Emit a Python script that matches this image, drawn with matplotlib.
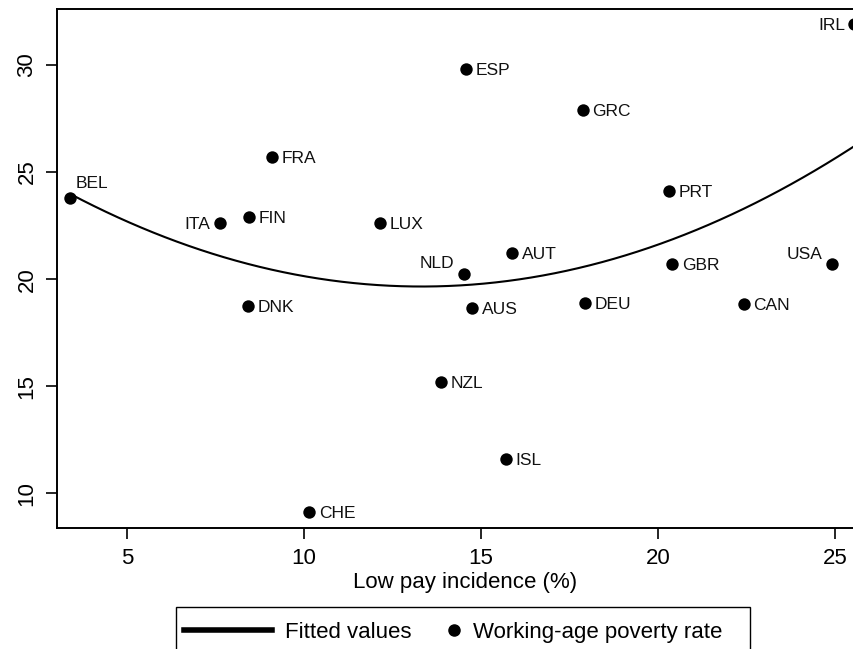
import numpy as np
import matplotlib
matplotlib.use("Agg")
import matplotlib.pyplot as plt
from matplotlib.lines import Line2D
from matplotlib.patches import Rectangle

plt.rcParams["font.family"] = ["Liberation Sans", "DejaVu Sans"]

# data
countries = ["BEL", "ITA", "FIN", "FRA", "DNK", "CHE", "LUX", "NLD", "ESP", "AUS",
             "NZL", "ISL", "AUT", "GRC", "DEU", "PRT", "GBR", "CAN", "USA", "IRL"]
low_pay = [3.41, 7.64, 8.45, 9.10, 8.42, 10.15, 12.16, 14.51, 14.58, 14.75,
           13.87, 15.71, 15.88, 17.87, 17.93, 20.32, 20.40, 22.42, 24.92, 25.53]
poverty = [23.80, 22.61, 22.92, 25.72, 18.76, 9.11, 22.61, 20.23, 29.80, 18.64,
           15.21, 11.59, 21.21, 27.90, 18.90, 24.12, 20.69, 18.84, 20.70, 31.90]
x_ticks = [5, 10, 15, 20, 25]
y_ticks = [10, 15, 20, 25, 30]

# label placement (offset in points, horizontal alignment); default is right of the dot
label_pos = {
    "ITA": ((-7, 0), "right"),
    "IRL": ((-6, 0), "right"),
    "NLD": ((-7, 8.5), "right"),
    "USA": ((-7, 8), "right"),
    "BEL": ((4, 11), "left"),
}

x = np.array(low_pay)
y = np.array(poverty)

fig = plt.figure(figsize=(8.54, 6.49), dpi=100)
# axes run a little past the right edge, as in the cropped original
ax = fig.add_axes([57 / 854, 1 - 528.3 / 649, 816 / 854, 519.3 / 649])

# quadratic fit
coef = np.polyfit(x, y, 2)
xs = np.linspace(x.min(), x.max(), 200)
ax.plot(xs, np.polyval(coef, xs), color="black", lw=1.5, zorder=2)

ax.scatter(x, y, s=80, color="black", zorder=3, linewidths=0)
for c, xi, yi in zip(countries, x, y):
    off, ha = label_pos.get(c, ((7, 0), "left"))
    ax.annotate(c, (xi, yi), xytext=off, textcoords="offset points",
                ha=ha, va="center_baseline", fontsize=12.5, color="#111111")

ax.set_xlim(3.03, 26.07)
ax.set_ylim(8.37, 32.61)
ax.set_xticks(x_ticks)
ax.set_yticks(y_ticks)
ax.tick_params(axis="both", direction="out", length=8, width=1.2, labelsize=16,
               pad=6, colors="black")
for lab in ax.get_yticklabels():
    lab.set_rotation(90)
    lab.set_va("center")
for sp in ax.spines.values():
    sp.set_linewidth(1.4)
ax.set_xlabel("Low pay incidence (%)", fontsize=16, labelpad=2)

# legend box below the plot (bottom cut off by the figure edge)
fig.add_artist(Rectangle((176 / 854, 1 - 660 / 649), 574 / 854, 53.3 / 649,
                         transform=fig.transFigure, fill=False, lw=1.0,
                         edgecolor="black", clip_on=False))
ly = 1 - 630 / 649
fig.add_artist(Line2D([184 / 854, 272 / 854], [ly, ly], color="black", lw=4,
                      transform=fig.transFigure))
fig.text(285 / 854, ly, "Fitted values", fontsize=16, va="center_baseline")
fig.add_artist(Line2D([454 / 854], [ly], marker="o", markersize=8, color="black",
                      lw=0, transform=fig.transFigure))
fig.text(473 / 854, ly, "Working-age poverty rate", fontsize=16, va="center_baseline")

fig.savefig("out.png", dpi=100)
